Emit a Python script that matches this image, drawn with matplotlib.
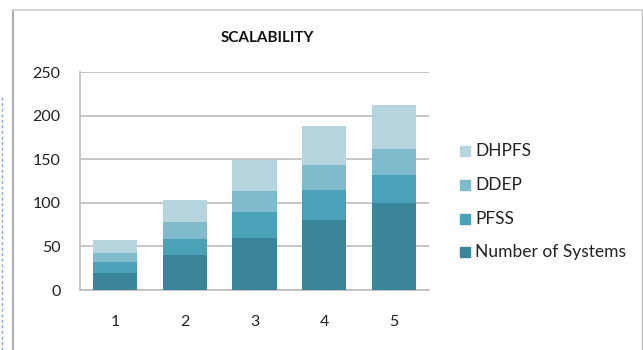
import matplotlib
matplotlib.use('Agg')
import matplotlib.pyplot as plt
from matplotlib.patches import Rectangle
from matplotlib.lines import Line2D
import numpy as np

categories = ['1', '2', '3', '4', '5']
systems = [20, 40, 60, 80, 100]
pfss = [12.5, 18.5, 30, 35, 32]
ddep = [10, 20, 24, 28, 30]
dhpfs = [15, 25, 35, 45, 50]

series = [('Number of Systems', systems, '#3a8599'),
          ('PFSS', pfss, '#4aa2b9'),
          ('DDEP', ddep, '#7fbacd'),
          ('DHPFS', dhpfs, '#b7d5df')]

plt.rcParams['font.family'] = ['Lato', 'DejaVu Sans']

W, H = 643, 350
fig = plt.figure(figsize=(W / 100, H / 100), dpi=100)
ax = fig.add_axes([80 / W, 1 - 290 / H, 349 / W, (290 - 72.3) / H])

x = np.arange(1, len(categories) + 1)
bottom = np.zeros(len(categories))
for name, vals, col in series:
    ax.bar(x, vals, width=0.636, bottom=bottom, color=col, zorder=3)
    bottom += np.array(vals)

ax.set_xlim(0.5, 5.5)
ax.set_ylim(0, 250)
ax.set_yticks(range(0, 251, 50))
ax.set_xticks(x)
ax.set_xticklabels(categories)
ax.yaxis.grid(True, color='#bdbdbd', linewidth=1.2, zorder=0)
for s in ['top', 'right']:
    ax.spines[s].set_visible(False)
for s in ['left', 'bottom']:
    ax.spines[s].set_color('#bdbdbd')
    ax.spines[s].set_linewidth(1.2)
ax.tick_params(axis='both', length=0, labelsize=11.5, colors='#222222')
ax.tick_params(axis='x', pad=18)
ax.tick_params(axis='y', pad=14)

fig.text(267 / W, 1 - 38 / H, 'SCALABILITY', ha='center', va='center',
         fontsize=11, fontweight='bold', color='#111111')

# legend drawn by hand to match spacing
leg_y = [150.7, 185, 219, 251.7]
for (name, vals, col), yy in zip(series[::-1], leg_y):
    fig.patches.append(Rectangle((460 / W, 1 - (yy + 5) / H), 10 / W, 10 / H,
                                 color=col, transform=fig.transFigure))
    fig.text(475 / W, 1 - yy / H, name, ha='left', va='center',
             fontsize=12.5, color='#222222')

# chart frame and dotted marker
fig.add_artist(Line2D([13 / W, 13 / W], [0, 1 - 10 / H], color='#b0b0b0', lw=1.5,
                      transform=fig.transFigure))
fig.add_artist(Line2D([13 / W, 642 / W], [1 - 10 / H, 1 - 10 / H], color='#d0d0d0',
                      lw=1.2, transform=fig.transFigure))
fig.add_artist(Line2D([641.5 / W, 641.5 / W], [0, 1 - 10 / H], color='#c0c0c0', lw=1,
                      transform=fig.transFigure))
fig.add_artist(Line2D([1.5 / W, 1.5 / W], [0, 1 - 97 / H], color='#7aa7e0', lw=1,
                      linestyle=(0, (2, 2)), transform=fig.transFigure))

plt.savefig('out.png', dpi=100)
